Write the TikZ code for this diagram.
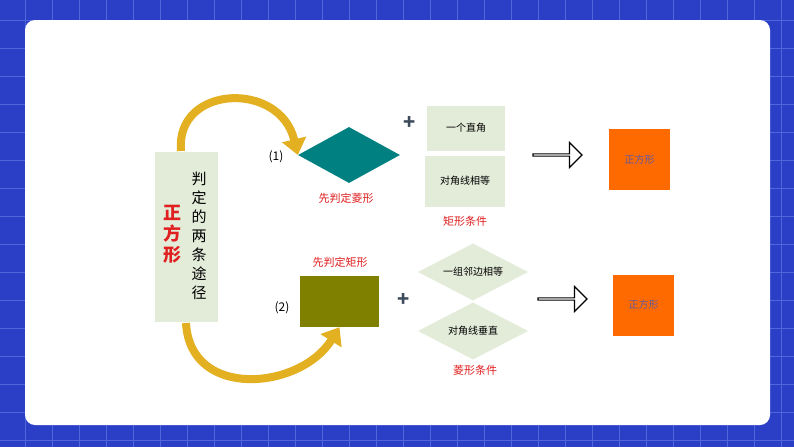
\documentclass[tikz,border=0pt]{standalone}
\usepackage{fontspec}
\setmainfont{Noto Sans CJK SC}
\usetikzlibrary{shapes.geometric,shapes.arrows,arrows.meta}
\definecolor{bgblue}{HTML}{2B3FC6}
\definecolor{gridl}{HTML}{4F67DA}
\definecolor{pale}{HTML}{E3EBD9}
\definecolor{tealc}{HTML}{008080}
\definecolor{olivec}{HTML}{808000}
\definecolor{orangec}{HTML}{FF6A00}
\definecolor{redc}{HTML}{E02020}
\definecolor{goldc}{HTML}{E3B021}
\definecolor{plusc}{HTML}{3C4A5C}
\tikzset{
  palebox/.style={fill=pale,draw=none,inner sep=0,font=\fontsize{10}{12}\selectfont},
  palediam/.style={diamond,fill=pale,draw=none,inner sep=0,aspect=2,font=\fontsize{10}{12}\selectfont},
  redlbl/.style={text=redc,font=\fontsize{11}{13}\selectfont},
  sq/.style={fill=orangec,draw=none,minimum width=61,minimum height=61,inner sep=0,text=gray!70!blue,font=\fontsize{10}{12}\selectfont},
  hollow/.style={single arrow,draw=black,line width=1.2,fill=white,minimum height=49,minimum width=25,single arrow head extend=6,inner sep=0},
  curvarr/.style={goldc,line width=8,-{Triangle[width=24,length=16]}},
  plus/.style={text=plusc,font=\fontsize{20}{20}\bfseries\selectfont},
}
\begin{document}
\begin{tikzpicture}[x=1pt,y=-1pt]
\useasboundingbox (0,0) rectangle (794,447);
\fill[bgblue] (0,0) rectangle (794,447);
\foreach \x in {25,52,...,794} \draw[gridl,line width=0.8] (\x,0) -- (\x,447);
\foreach \y in {20,48,...,447} \draw[gridl,line width=0.8] (0,\y) -- (794,\y);
\fill[white,rounded corners=10] (25,20) rectangle (770,425);

\node[palebox,minimum width=63,minimum height=170] (main) at (186.5,237) {};
\node[font=\fontsize{15}{19}\selectfont,align=center] (t1) at (199,236) {判\\定\\的\\两\\条\\途\\径};
\node[font=\fontsize{18}{21}\bfseries\selectfont,text=redc,align=center] (t2) at (172,234) {正\\方\\形};

\node[diamond,fill=tealc,minimum width=102,minimum height=56,inner sep=0,aspect=1.8] (rh) at (349,155) {};
\node[font=\fontsize{12}{14}\selectfont] (n1) at (276,157) {(1)};
\node[redlbl] (l1) at (346,198) {先判定菱形};
\node[plus] (p1) at (410,123) {+};
\node[palebox,minimum width=78,minimum height=45] (b1) at (466,128) {一个直角};
\node[palebox,minimum width=80,minimum height=51] (b2) at (465,181) {对角线相等};
\node[redlbl] (l2) at (465,221) {矩形条件};
\node[hollow] (a1) at (557,155) {};
\node[sq] (s1) at (639.5,159.5) {正方形};

\node[redlbl] (l3) at (340,262) {先判定矩形};
\node[fill=olivec,minimum width=79,minimum height=51,inner sep=0] (rc) at (339.5,301.5) {};
\node[font=\fontsize{12}{14}\selectfont] (n2) at (282,308) {(2)};
\node[plus] (p2) at (404,300) {+};
\node[palediam,minimum width=110,minimum height=57] (d1) at (473,272) {一组邻边相等};
\node[palediam,minimum width=110,minimum height=57] (d2) at (473,331) {对角线垂直};
\node[redlbl] (l4) at (475,370) {菱形条件};
\node[hollow] (a2) at (562,299) {};
\node[sq] (s2) at (643.5,305) {正方形};

\coordinate (c1) at (181,151);
\coordinate (c2) at (186,323);
\draw[curvarr] (c1) .. controls (175,85) and (280,80) .. (rh.west);
\draw[curvarr] (c2) .. controls (190,400) and (300,390) .. (rc.south);
\end{tikzpicture}
\end{document}
